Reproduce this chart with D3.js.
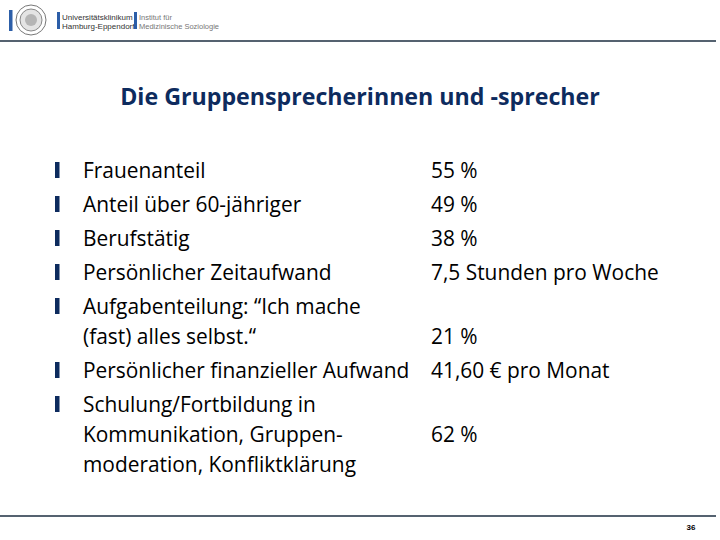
<!DOCTYPE html>
<html><head><meta charset="utf-8">
<script src="https://cdn.jsdelivr.net/npm/d3@7"></script>
<style>body{margin:0;background:#fff}</style>
</head><body>
<script>
const title = "Die Gruppensprecherinnen und -sprecher";
const labels = [
  ["Frauenanteil"],
  ["Anteil über 60-jähriger"],
  ["Berufstätig"],
  ["Persönlicher Zeitaufwand"],
  ["Aufgabenteilung: “Ich mache", "(fast) alles selbst.“"],
  ["Persönlicher finanzieller Aufwand"],
  ["Schulung/Fortbildung in", "Kommunikation, Gruppen-", "moderation, Konfliktklärung"]
];
const values = ["55 %", "49 %", "38 %", "7,5 Stunden pro Woche", "21 %", "41,60 € pro Monat", "62 %"];
const valueLine = [0, 0, 0, 0, 1, 0, 1];
const pageNumber = "36";

const W = 720, H = 540, navy = "#0d2b5e";
const svg = d3.select("body").append("svg").attr("width", W).attr("height", H);

// header
svg.append("line").attr("x1", 0).attr("x2", 716).attr("y1", 41).attr("y2", 41).attr("stroke", "#1c2e40").attr("stroke-width", 1.3);
svg.append("line").attr("x1", 0).attr("x2", 716).attr("y1", 516).attr("y2", 516).attr("stroke", "#1c2e40").attr("stroke-width", 1.3);
const logo = svg.append("g");
logo.append("rect").attr("x", 9).attr("y", 10).attr("width", 3.5).attr("height", 21).attr("fill", "#2c5ea8");
logo.append("circle").attr("cx", 31).attr("cy", 20).attr("r", 15).attr("fill", "#fff").attr("stroke", "#777").attr("stroke-width", 1);
logo.append("circle").attr("cx", 31).attr("cy", 20).attr("r", 11).attr("fill", "#e4e4e4").attr("stroke", "#888").attr("stroke-width", 1);
logo.append("circle").attr("cx", 31).attr("cy", 20).attr("r", 6).attr("fill", "#b5b5b5");
logo.append("rect").attr("x", 57).attr("y", 12).attr("width", 3).attr("height", 17).attr("fill", "#2c5ea8");
const lf = "Liberation Sans";
logo.append("text").attr("x", 62).attr("y", 20).text("Universitätsklinikum").attr("font-family", lf).attr("font-size", 8).attr("fill", "#333");
logo.append("text").attr("x", 62).attr("y", 29).text("Hamburg-Eppendorf").attr("font-family", lf).attr("font-size", 8).attr("fill", "#333");
logo.append("rect").attr("x", 134).attr("y", 12).attr("width", 3).attr("height", 17).attr("fill", "#2c5ea8");
logo.append("text").attr("x", 139).attr("y", 20).text("Institut für").attr("font-family", lf).attr("font-size", 7.5).attr("fill", "#777");
logo.append("text").attr("x", 139).attr("y", 29).text("Medizinische Soziologie").attr("font-family", lf).attr("font-size", 7.5).attr("fill", "#777");

svg.append("text").attr("x", 360).attr("y", 105).attr("text-anchor", "middle")
  .attr("font-family", "Open Sans").attr("font-weight", "bold").attr("font-size", 23.2).attr("fill", navy).text(title);

// rows
const font = "Open Sans", fs = 20.9;
const yStart = 170;
const yPos = [];
let y = yStart;
labels.forEach((l, i) => { yPos.push(y); y += 34 + (l.length - 1) * 30; });
const yScale = d3.scaleOrdinal().domain(d3.range(labels.length)).range(yPos);

const rows = svg.append("g").selectAll("g").data(labels).join("g");
rows.append("rect").attr("x", 55).attr("y", (d, i) => yScale(i) - 8).attr("width", 4.5).attr("height", 16).attr("fill", navy);
rows.each(function(d, i) {
  d3.select(this).selectAll("text.l").data(d).join("text").attr("class", "l")
    .attr("x", 83).attr("y", (t, j) => yScale(i) + j * 30 + 7.5)
    .attr("font-family", font).attr("font-size", fs).attr("fill", "#000").text(t => t);
});
rows.append("text").attr("x", 431).attr("y", (d, i) => yScale(i) + valueLine[i] * 30 + 7.5)
  .attr("font-family", font).attr("font-size", fs).attr("fill", "#000").text((d, i) => values[i]);

svg.append("text").attr("x", 691).attr("y", 530).attr("text-anchor", "middle").attr("font-family", "Liberation Sans").attr("font-weight", "bold").attr("font-size", 8).text(pageNumber);
</script>
</body></html>
